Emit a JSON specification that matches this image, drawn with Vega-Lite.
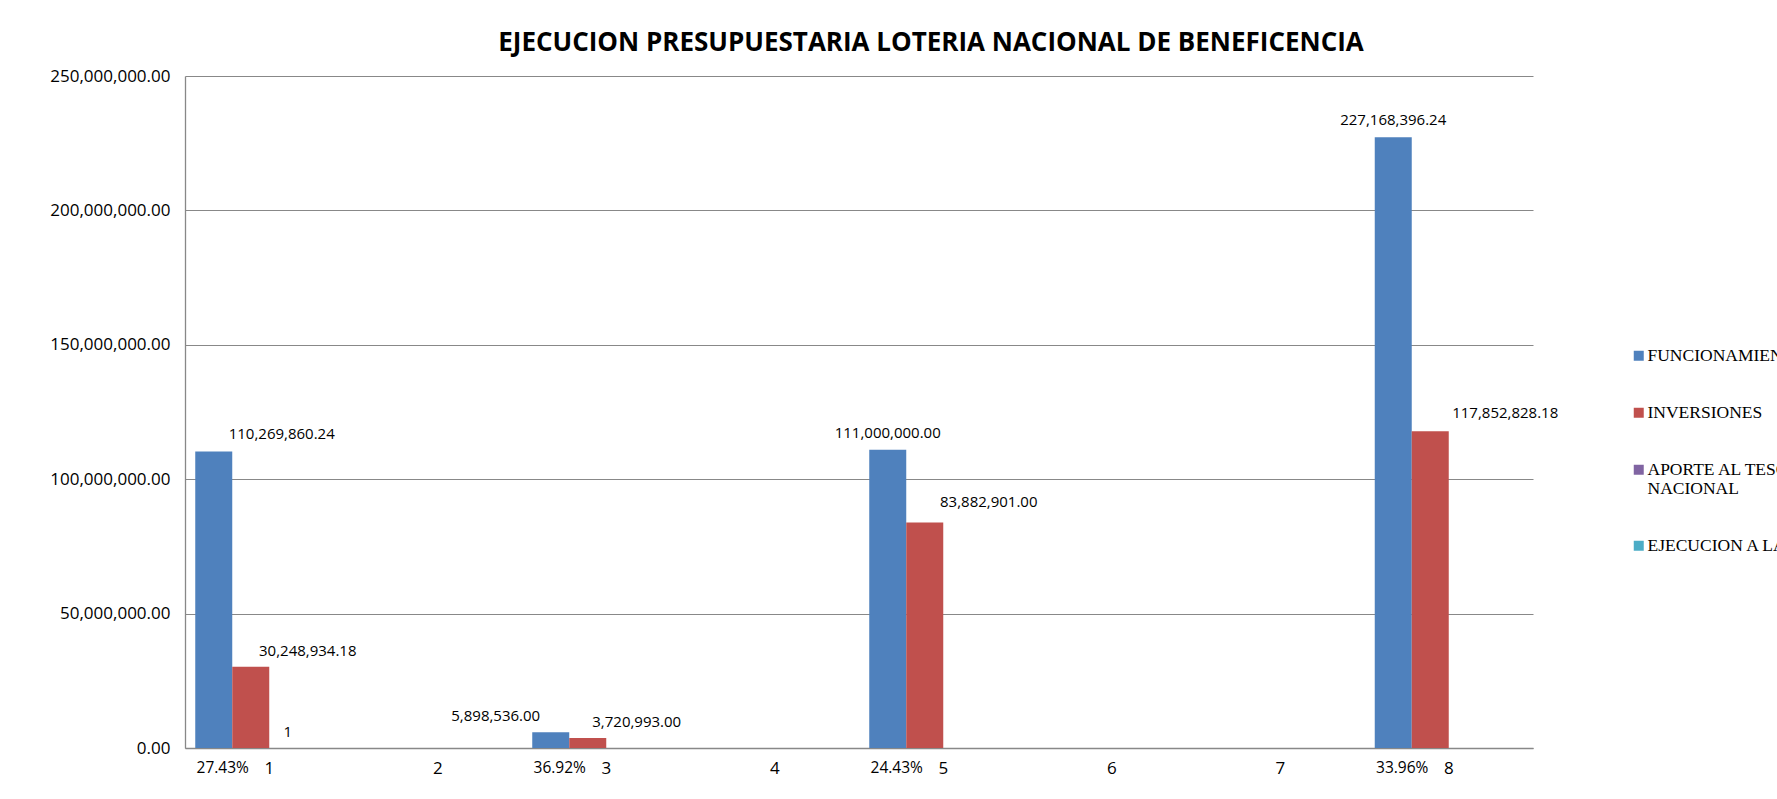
{
  "$schema": "https://vega.github.io/schema/vega-lite/v6.json",
  "width": 1348,
  "height": 672,
  "autosize": {"type": "none"},
  "padding": {"left": 185, "top": 76, "right": 244, "bottom": 51},
  "background": "white",
  "title": {
    "text": "EJECUCION PRESUPUESTARIA LOTERIA NACIONAL DE BENEFICENCIA",
    "font": "Open Sans",
    "fontSize": 26,
    "fontWeight": "bold",
    "color": "#000000",
    "anchor": "middle",
    "frame": "group",
    "dx": 72,
    "offset": 11
  },
  "config": {
    "view": {"stroke": null},
    "axis": {"labelFont": "Open Sans", "labelFontSize": 17, "labelColor": "#000000"},
    "text": {"font": "Open Sans", "fontSize": 15, "color": "#000000"}
  },
  "datasets": {
    "bars": [
      {"cat": "1", "serie": "FUNCIONAMIENTO", "value": 110269860.24},
      {"cat": "1", "serie": "INVERSIONES", "value": 30248934.18},
      {"cat": "1", "serie": "APORTE AL TESORO NACIONAL", "value": 1},
      {"cat": "3", "serie": "FUNCIONAMIENTO", "value": 5898536.00},
      {"cat": "3", "serie": "INVERSIONES", "value": 3720993.00},
      {"cat": "5", "serie": "FUNCIONAMIENTO", "value": 111000000.00},
      {"cat": "5", "serie": "INVERSIONES", "value": 83882901.00},
      {"cat": "8", "serie": "FUNCIONAMIENTO", "value": 227168396.24},
      {"cat": "8", "serie": "INVERSIONES", "value": 117852828.18}
    ],
    "pcts": [
      {"cat": "1", "serie": "FUNCIONAMIENTO", "value": 0, "pct": "27.43%"},
      {"cat": "3", "serie": "FUNCIONAMIENTO", "value": 0, "pct": "36.92%"},
      {"cat": "5", "serie": "FUNCIONAMIENTO", "value": 0, "pct": "24.43%"},
      {"cat": "8", "serie": "FUNCIONAMIENTO", "value": 0, "pct": "33.96%"}
    ]
  },
  "data": {"name": "bars"},
  "encoding": {
    "x": {
      "field": "cat",
      "type": "ordinal",
      "scale": {"domain": ["1", "2", "3", "4", "5", "6", "7", "8"], "paddingInner": 0, "paddingOuter": 0},
      "axis": {"title": null, "labelAngle": 0, "ticks": false, "domainColor": "#888888", "domainWidth": 1.3, "labelPadding": 12}
    },
    "xOffset": {
      "field": "serie",
      "type": "nominal",
      "scale": {"domain": ["FUNCIONAMIENTO", "INVERSIONES", "APORTE AL TESORO NACIONAL", "EJECUCION A LA FECHA"], "paddingInner": 0, "paddingOuter": 0.277}
    },
    "y": {
      "field": "value",
      "type": "quantitative",
      "scale": {"domain": [0, 250000000], "nice": false},
      "axis": {"title": null, "format": ",.2f", "values": [0, 50000000, 100000000, 150000000, 200000000, 250000000], "ticks": false, "labelPadding": 15, "domainColor": "#888888", "domainWidth": 1.3, "gridColor": "#888888", "gridWidth": 1}
    }
  },
  "layer": [
    {
      "mark": {"type": "bar"},
      "encoding": {
        "color": {
          "field": "serie",
          "type": "nominal",
          "scale": {"domain": ["FUNCIONAMIENTO", "INVERSIONES", "APORTE AL TESORO NACIONAL", "EJECUCION A LA FECHA"], "range": ["#4F81BD", "#C0504D", "#8064A2", "#4BACC6"]},
          "legend": {
            "title": null,
            "orient": "none",
            "legendX": 1445,
            "legendY": 271,
            "symbolType": "square",
            "symbolSize": 100,
            "symbolStrokeWidth": 0,
            "labelFont": "Liberation Serif",
            "labelFontSize": 17.5,
            "labelColor": "#000000",
            "labelOffset": 0,
            "labelLimit": 600,
            "rowPadding": 38,
            "padding": 0,
            "labelExpr": "datum.label == 'APORTE AL TESORO NACIONAL' ? ['APORTE AL TESORO', 'NACIONAL'] : datum.label"
          }
        }
      }
    },
    {
      "transform": [{"filter": "datum.serie == 'FUNCIONAMIENTO' && datum.cat == '1'"}],
      "mark": {"type": "text", "dx": 68, "dy": -18, "baseline": "middle"},
      "encoding": {"text": {"field": "value", "type": "quantitative", "format": ",.2f"}}
    },
    {
      "transform": [{"filter": "datum.serie == 'FUNCIONAMIENTO' && datum.cat == '3'"}],
      "mark": {"type": "text", "dx": -55, "dy": -16, "baseline": "middle"},
      "encoding": {"text": {"field": "value", "type": "quantitative", "format": ",.2f"}}
    },
    {
      "transform": [{"filter": "datum.serie == 'FUNCIONAMIENTO' && (datum.cat == '5' || datum.cat == '8')"}],
      "mark": {"type": "text", "dx": 0, "dy": -17, "baseline": "middle"},
      "encoding": {"text": {"field": "value", "type": "quantitative", "format": ",.2f"}}
    },
    {
      "transform": [{"filter": "datum.serie == 'INVERSIONES' && datum.cat == '1'"}],
      "mark": {"type": "text", "dx": 57, "dy": -16, "baseline": "middle"},
      "encoding": {"text": {"field": "value", "type": "quantitative", "format": ",.2f"}}
    },
    {
      "transform": [{"filter": "datum.serie == 'INVERSIONES' && datum.cat == '3'"}],
      "mark": {"type": "text", "dx": 49, "dy": -16, "baseline": "middle"},
      "encoding": {"text": {"field": "value", "type": "quantitative", "format": ",.2f"}}
    },
    {
      "transform": [{"filter": "datum.serie == 'INVERSIONES' && datum.cat == '5'"}],
      "mark": {"type": "text", "dx": 64, "dy": -21, "baseline": "middle"},
      "encoding": {"text": {"field": "value", "type": "quantitative", "format": ",.2f"}}
    },
    {
      "transform": [{"filter": "datum.serie == 'INVERSIONES' && datum.cat == '8'"}],
      "mark": {"type": "text", "dx": 75, "dy": -18, "baseline": "middle"},
      "encoding": {"text": {"field": "value", "type": "quantitative", "format": ",.2f"}}
    },
    {
      "transform": [{"filter": "datum.serie == 'APORTE AL TESORO NACIONAL'"}],
      "mark": {"type": "text", "dx": 0, "dy": -16, "baseline": "middle"},
      "encoding": {"text": {"field": "value", "type": "quantitative", "format": ",.0f"}}
    },
    {
      "data": {"name": "pcts"},
      "mark": {"type": "text", "dx": 9, "dy": 20, "baseline": "middle", "fontSize": 15.5},
      "encoding": {
        "text": {"field": "pct", "type": "nominal"}
      }
    }
  ]
}
